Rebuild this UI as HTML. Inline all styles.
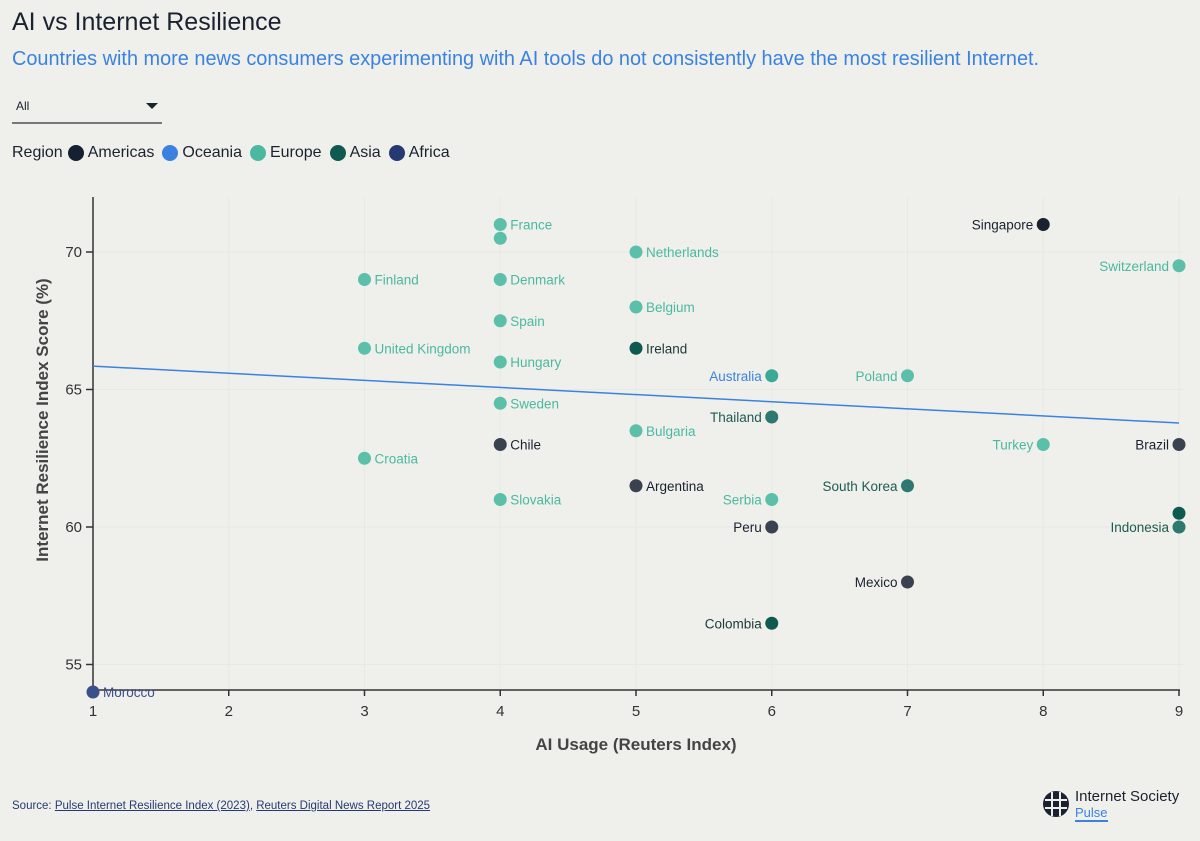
<!DOCTYPE html>
<html><head><meta charset="utf-8">
<style>
body{margin:0;background:#eff0ec;font-family:"Liberation Sans",sans-serif;}
#wrap{position:relative;width:1200px;height:841px;overflow:hidden;}
.abs{position:absolute;}
</style></head>
<body>
<div id="wrap">
<div class="abs" style="left:12px;top:8px;font-size:25px;color:#1a2230;">AI vs Internet Resilience</div>
<div class="abs" style="left:12px;top:48px;font-size:19.9px;color:#3b82e0;">Countries with more news consumers experimenting with AI tools do not consistently have the most resilient Internet.</div>
<div class="abs" style="left:12px;top:94px;width:150px;height:28px;border-bottom:2px solid #777;">
 <span style="position:absolute;left:4px;top:5px;font-size:12px;color:#1a2230;">All</span>
 <span style="position:absolute;right:4px;top:9px;width:0;height:0;border-left:6px solid transparent;border-right:6px solid transparent;border-top:6px solid #1a2230;"></span>
</div>
<div class="abs" style="left:12px;top:144px;font-size:16px;color:#1a2230;display:flex;align-items:center;gap:5px;">
 <span>Region</span>
 <span style="display:flex;align-items:center;gap:4px;"><i style="width:16px;height:16px;border-radius:50%;background:#152131;display:inline-block"></i>Americas</span>
 <span style="display:flex;align-items:center;gap:4px;margin-left:3px"><i style="width:16px;height:16px;border-radius:50%;background:#3b82e0;display:inline-block"></i>Oceania</span>
 <span style="display:flex;align-items:center;gap:4px;margin-left:3px"><i style="width:16px;height:16px;border-radius:50%;background:#4bb8a0;display:inline-block"></i>Europe</span>
 <span style="display:flex;align-items:center;gap:4px;margin-left:3px"><i style="width:16px;height:16px;border-radius:50%;background:#0e5a50;display:inline-block"></i>Asia</span>
 <span style="display:flex;align-items:center;gap:4px;margin-left:3px"><i style="width:16px;height:16px;border-radius:50%;background:#253a72;display:inline-block"></i>Africa</span>
</div>
<svg class="abs" style="left:0;top:0" width="1200" height="841" id="plot"></svg>
<div class="abs" style="left:12px;top:800px;font-size:11.5px;color:#253a72;">Source: <u>Pulse Internet Resilience Index (2023)</u>, <u>Reuters Digital News Report 2025</u></div>
<div class="abs" style="left:1042px;top:788px;">
 <svg width="28" height="28" style="position:absolute;left:0;top:2px"><circle cx="14" cy="14" r="13" fill="#1a2230"/><path d="M3 10H25M3 18H25M10 2V26M18 2V26" stroke="#eff0ec" stroke-width="2"/></svg>
 <div style="position:absolute;left:33px;top:0;font-size:15px;color:#1a2230;white-space:nowrap;">Internet Society</div>
 <div style="position:absolute;left:33px;top:17px;font-size:13px;color:#3b82e0;border-bottom:2px solid #3b82e0;">Pulse</div>
</div>
</div>
<script>
const names=["France","","Netherlands","Finland","Denmark","Belgium","Spain","United Kingdom","Hungary","Poland","Sweden","Bulgaria","Croatia","Turkey","Slovakia","Serbia","Switzerland","Singapore","Ireland","Thailand","South Korea","Indonesia","","Colombia","Chile","Argentina","Peru","Mexico","Brazil","Australia","Morocco"];
const aiUsage=[4,4,5,3,4,5,4,3,4,7,4,5,3,8,4,6,9,8,5,6,7,9,9,6,4,5,6,7,9,6,1];
const resilience=[71,70.5,70,69,69,68,67.5,66.5,66,65.5,64.5,63.5,62.5,63,61,61,69.5,71,66.5,64,61.5,60,60.5,56.5,63,61.5,60,58,63,65.5,54];
const groups=["eu","eu","eu","eu","eu","eu","eu","eu","eu","eu","eu","eu","eu","eu","eu","eu","eu","sg","asd","as","as","as","asd","asd","am","am","am","am","am","oc","af"];
const labelLeft=[0,0,0,0,0,0,0,0,0,1,0,0,0,1,0,1,1,1,0,1,1,1,0,1,0,0,1,1,1,1,0];
const xTicks=[1,2,3,4,5,6,7,8,9];
const yTicks=[55,60,65,70];
const trendX=[1,9];
const trendY=[65.85,63.78];
const ptColor={eu:"#5cbfa9",sg:"#18232f",asd:"#0e5a50",as:"#2e7870",am:"#3a4250",oc:"#3aa996",af:"#3b4f8a"};
const lbColor={eu:"#4bb8a0",sg:"#18232f",asd:"#1a3a36",as:"#1f5a52",am:"#1a2230",oc:"#3b82e0",af:"#3b4f8a"};
const X=v=>93+(v-1)*135.75, Y=v=>252+(70-v)*27.5;
const svg=document.getElementById('plot');const NS="http://www.w3.org/2000/svg";
function mk(t,a,txt){const e=document.createElementNS(NS,t);for(const k in a)e.setAttribute(k,a[k]);if(txt!==undefined)e.textContent=txt;svg.appendChild(e);return e;}
xTicks.forEach(t=>{let g=mk('line',{x1:X(t),x2:X(t),y1:197,y2:690,stroke:'#e7e9e4','stroke-width':1});});
yTicks.forEach(t=>{let g=mk('line',{x1:93,x2:1185,y1:Y(t),y2:Y(t),stroke:'#e7e9e4','stroke-width':1});});
let ax=mk('line',{x1:93,x2:93,y1:197,y2:690,stroke:'#333','stroke-width':1.5});
let ax2=mk('line',{x1:93,x2:1180,y1:690,y2:690,stroke:'#333','stroke-width':1.5});
xTicks.forEach(t=>{mk('line',{x1:X(t),x2:X(t),y1:690,y2:696,stroke:'#333','stroke-width':1.5});let l=mk('text',{x:X(t),y:716,'text-anchor':'middle','font-size':15,fill:'#333'},t);});
yTicks.forEach(t=>{mk('line',{x1:86,x2:93,y1:Y(t),y2:Y(t),stroke:'#333','stroke-width':1.5});let l=mk('text',{x:82,y:Y(t)+5,'text-anchor':'end','font-size':15,fill:'#333'},t);});
let xt=mk('text',{x:636,y:750,'text-anchor':'middle','font-size':17,'font-weight':'bold',fill:'#444'},'AI Usage (Reuters Index)');
let yt=mk('text',{x:0,y:0,'text-anchor':'middle','font-size':17,'font-weight':'bold',fill:'#444',transform:'translate(48,420) rotate(-90)'},'Internet Resilience Index Score (%)');
let tr=mk('line',{x1:X(trendX[0]),y1:Y(trendY[0]),x2:X(trendX[1]),y2:Y(trendY[1]),stroke:'#3b82e0','stroke-width':1.5});
names.forEach((n,i)=>{const cx=X(aiUsage[i]),cy=Y(resilience[i]);const g=groups[i];
 let c=mk('circle',{cx:cx,cy:cy,r:6.5,fill:ptColor[g]});
 if(n){let l=mk('text',{x:labelLeft[i]?cx-10:cx+10,y:cy+5,'text-anchor':labelLeft[i]?'end':'start','font-size':13.5,fill:lbColor[g]},n);}
});
</script>
</body></html>
